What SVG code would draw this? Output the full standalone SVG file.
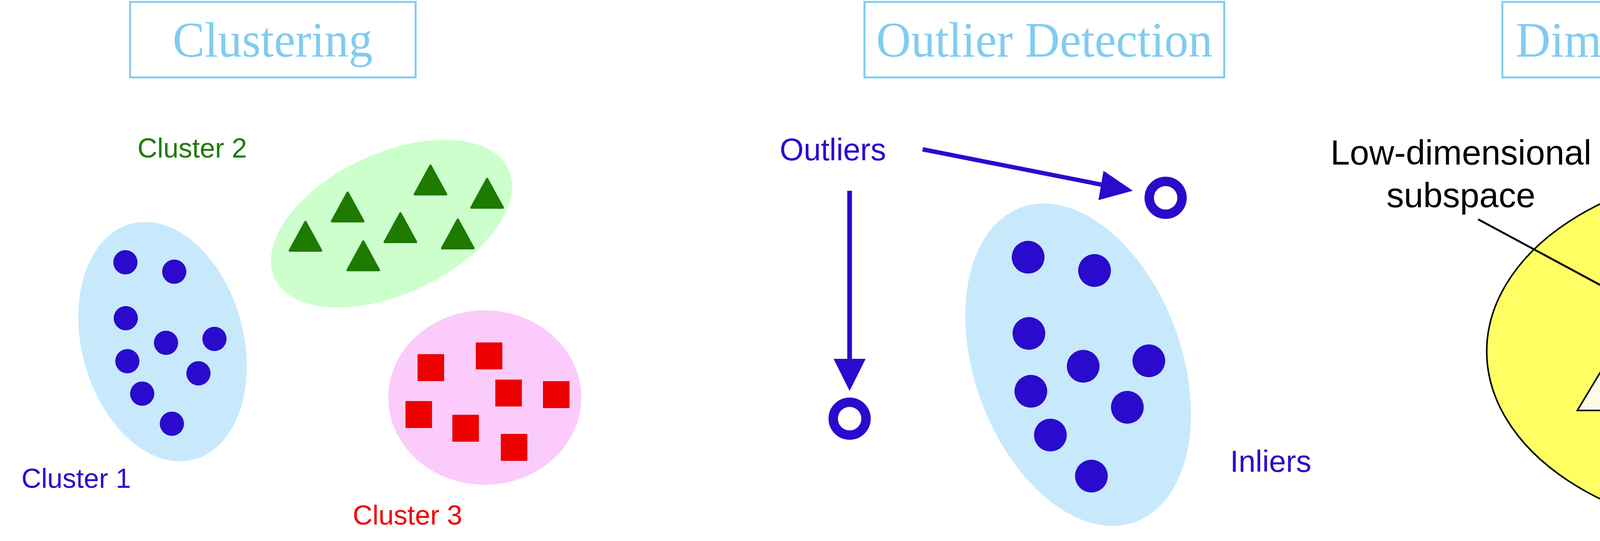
<svg xmlns="http://www.w3.org/2000/svg" width="5684" height="1384" viewBox="0 0 5684 1384">
<style>
.tbox{fill:#fff;stroke:#80ccf0;stroke-width:5}
.title{font-family:"Liberation Serif",serif;font-size:128px;fill:#80ccf0}
.lab{font-family:"Liberation Sans",Arial,sans-serif}
.bd{fill:#2a0acc}
.tri{fill:#1f7a00;stroke:#1f7a00;stroke-width:6;stroke-linejoin:round}
.rsq{fill:#ee0000}
.gx{stroke:#339922;stroke-width:8;fill:none}
.hb{fill:none;stroke:#7777ee;stroke-width:2}
.hr{fill:none;stroke:#ee7777;stroke-width:2}
</style>
<defs>
<pattern id="grid" width="8" height="8" patternUnits="userSpaceOnUse">
<rect width="8" height="8" fill="#fffdf0"/>
<path d="M0 0H8M0 0V8" stroke="#f6f0b8" stroke-width="1.5"/>
</pattern>
<marker id="ah" viewBox="0 0 10 10" refX="10" refY="5" markerWidth="12" markerHeight="10" markerUnits="userSpaceOnUse" orient="auto">
<path d="M0 0L10 5L0 10z" fill="#000"/>
</marker>
</defs>

<g id="title-clustering">
<rect class="tbox" x="333" y="5" width="731" height="193"/>
<text class="title" x="442" y="145" textLength="512" lengthAdjust="spacingAndGlyphs">Clustering</text>
</g>
<g id="title-outlier">
<rect class="tbox" x="2213" y="5" width="921" height="193"/>
<text class="title" x="2243" y="145" textLength="861" lengthAdjust="spacingAndGlyphs">Outlier Detection</text>
</g>
<g id="title-dimred">
<rect class="tbox" x="3846" y="5" width="1377" height="193"/>
<text class="title" x="3880" y="145" textLength="1303" lengthAdjust="spacingAndGlyphs">Dimensionality Reduction</text>
</g>

<g id="cluster1">
<ellipse cx="416" cy="874" rx="207" ry="312" transform="rotate(-15 416 874)" fill="#c8e9fc"/>
<circle class="bd" cx="321" cy="671" r="31"/><circle class="bd" cx="446" cy="695" r="31"/>
<circle class="bd" cx="322" cy="814" r="31"/><circle class="bd" cx="425" cy="877" r="31"/>
<circle class="bd" cx="549" cy="867" r="31"/><circle class="bd" cx="326" cy="924" r="31"/>
<circle class="bd" cx="508" cy="955" r="31"/><circle class="bd" cx="364" cy="1007" r="31"/>
<circle class="bd" cx="440" cy="1084" r="31"/>
<text class="lab" x="55" y="1248" font-size="70" fill="#2a0acc">Cluster 1</text>
</g>
<g id="cluster2">
<ellipse cx="1002" cy="572" rx="330" ry="180" transform="rotate(-25 1002 572)" fill="#ccffcc"/>
<path class="tri" d="M1102 424L1142 497H1062Z"/>
<path class="tri" d="M1247 458L1287 531H1207Z"/>
<path class="tri" d="M890 493L930 566H850Z"/>
<path class="tri" d="M1025 546L1065 619H985Z"/>
<path class="tri" d="M1172 562L1212 635H1132Z"/>
<path class="tri" d="M782 568L822 641H742Z"/>
<path class="tri" d="M930 618L970 691H890Z"/>
<text class="lab" x="352" y="403" font-size="70" fill="#1f7a00">Cluster 2</text>
</g>
<g id="cluster3">
<ellipse cx="1241" cy="1017" rx="247" ry="223" fill="#fbcbfb"/>
<rect class="rsq" x="1069" y="906" width="68" height="69"/>
<rect class="rsq" x="1218" y="876" width="68" height="69"/>
<rect class="rsq" x="1268" y="971" width="68" height="69"/>
<rect class="rsq" x="1390" y="975" width="68" height="69"/>
<rect class="rsq" x="1038" y="1026" width="68" height="69"/>
<rect class="rsq" x="1158" y="1061" width="68" height="69"/>
<rect class="rsq" x="1282" y="1110" width="68" height="69"/>
<text class="lab" x="903" y="1342" font-size="70" fill="#ee0000">Cluster 3</text>
</g>

<g id="outliers">
<text class="lab" x="1996" y="410" font-size="79" fill="#2a0acc">Outliers</text>
<circle cx="2984" cy="506" r="42" fill="none" stroke="#2a0acc" stroke-width="24"/>
<circle cx="2175" cy="1071" r="42" fill="none" stroke="#2a0acc" stroke-width="24"/>
</g>
<g id="inliers">
<ellipse cx="2760" cy="933" rx="265" ry="428" transform="rotate(-20 2760 933)" fill="#c8e9fc"/>
<circle class="bd" cx="2632" cy="658" r="42"/><circle class="bd" cx="2802" cy="692" r="42"/>
<circle class="bd" cx="2634" cy="853" r="42"/><circle class="bd" cx="2773" cy="937" r="42"/>
<circle class="bd" cx="2941" cy="923" r="42"/><circle class="bd" cx="2639" cy="1001" r="42"/>
<circle class="bd" cx="2886" cy="1042" r="42"/><circle class="bd" cx="2689" cy="1113" r="42"/>
<circle class="bd" cx="2794" cy="1218" r="42"/>
<text class="lab" x="3149" y="1207" font-size="78" fill="#2a0acc">Inliers</text>
</g>

<g id="high-space">
<ellipse cx="4522" cy="899" rx="716" ry="469" fill="#ffff63" stroke="#000" stroke-width="4"/>
<text class="lab" x="5322" y="421" font-size="89" fill="#000" text-anchor="middle">High-dimensional</text>
<text class="lab" x="5322" y="530" font-size="89" fill="#000" text-anchor="middle">space</text>
</g>
<g id="points-above">
<circle class="bd" cx="4362" cy="565" r="18"/><circle class="bd" cx="4408" cy="572" r="18"/>
<circle class="bd" cx="4326" cy="613" r="18"/><circle class="bd" cx="4379" cy="613" r="18"/>
<rect class="rsq" x="4541" y="560" width="39" height="39"/>
<rect class="rsq" x="4640" y="574" width="39" height="39"/>
<rect class="rsq" x="4586" y="603" width="39" height="39"/>
<path class="gx" d="M4749 612L4787 650M4787 612L4749 650"/>
</g>
<g id="low-subspace">
<path d="M4282 645H5024L4779 1050H4038Z" fill="url(#grid)" stroke="#000" stroke-width="4"/>
<ellipse cx="4357" cy="845" rx="125" ry="78" transform="rotate(-30 4357 845)" fill="#a8dcfb"/>
<ellipse cx="4591" cy="755" rx="120" ry="70" transform="rotate(15 4591 755)" fill="#f9cbf9"/>
<ellipse cx="4719" cy="935" rx="72" ry="95" transform="rotate(25 4719 935)" fill="#ccf8cc"/>
<circle class="bd" cx="4294" cy="660" r="18"/><circle class="bd" cx="4401" cy="654" r="18"/>
<circle class="bd" cx="4364" cy="702" r="18"/><circle class="bd" cx="4321" cy="729" r="18"/>
<circle class="bd" cx="4408" cy="761" r="18"/><circle class="bd" cx="4327" cy="778" r="18"/>
<circle class="bd" cx="4383" cy="834" r="18"/><circle class="bd" cx="4305" cy="865" r="18"/>
<rect class="rsq" x="4631" y="633" width="39" height="39"/>
<rect class="rsq" x="4539" y="666" width="39" height="39"/>
<rect class="rsq" x="4625" y="733" width="39" height="39"/>
<rect class="rsq" x="4576" y="756" width="39" height="39"/>
<path class="gx" d="M4709 684L4747 722M4747 684L4709 722"/>
<path class="gx" d="M4771 705L4809 743M4809 705L4771 743"/>
<path class="gx" d="M4738 762L4776 800M4776 762L4738 800"/>
<path class="gx" d="M4772 818L4810 856M4810 818L4772 856"/>
<path class="gx" d="M4663 852L4701 890M4701 852L4663 890"/>
<path class="gx" d="M4710 899L4748 937M4748 899L4710 937"/>
<path class="gx" d="M4669 955L4707 993M4707 955L4669 993"/>
<g class="hb">
<circle cx="4286" cy="960" r="16"/><path d="M4270 960H4302M4286 944V976"/>
<circle cx="4361" cy="960" r="16"/><path d="M4345 960H4377M4361 944V976"/>
<circle cx="4326" cy="1018" r="16"/><path d="M4310 1018H4342M4326 1002V1034"/>
<circle cx="4278" cy="1037" r="16"/><path d="M4262 1037H4294M4278 1021V1053"/>
</g>
<g class="hr">
<rect x="4547" y="851" width="36" height="36"/><path d="M4547 863H4583M4547 875H4583M4559 851V887M4571 851V887"/>
<rect x="4485" y="882" width="36" height="36"/><path d="M4485 894H4521M4485 906H4521M4497 882V918M4509 882V918"/>
<rect x="4545" y="913" width="36" height="36"/><path d="M4545 925H4581M4545 937H4581M4557 913V949M4569 913V949"/>
<rect x="4466" y="950" width="36" height="36"/><path d="M4466 962H4502M4466 974H4502M4478 950V986M4490 950V986"/>
<rect x="4526" y="978" width="36" height="36"/><path d="M4526 990H4562M4526 1002H4562M4538 978V1014M4550 978V1014"/>
</g>
<text class="lab" x="3740" y="421" font-size="89" fill="#000" text-anchor="middle">Low-dimensional</text>
<text class="lab" x="3740" y="530" font-size="89" fill="#000" text-anchor="middle">subspace</text>
</g>
<g id="points-below">
<circle class="bd" cx="4342" cy="1068" r="18"/><circle class="bd" cx="4274" cy="1098" r="18"/>
<circle class="bd" cx="4331" cy="1125" r="18"/><circle class="bd" cx="4266" cy="1177" r="18"/>
<circle class="bd" cx="4341" cy="1181" r="18"/>
<rect class="rsq" x="4468" y="1052" width="39" height="20"/>
<rect class="rsq" x="4540" y="1064" width="39" height="39"/>
<rect class="rsq" x="4476" y="1094" width="39" height="39"/>
<rect class="rsq" x="4561" y="1142" width="39" height="39"/>
<path class="gx" d="M4650 1046L4688 1084M4688 1046L4650 1084"/>
<path class="gx" d="M4696 1084L4734 1122M4734 1084L4696 1122"/>
<path class="gx" d="M4673 1139L4711 1177M4711 1139L4673 1177"/>
<path class="gx" d="M4733 1160L4771 1198M4771 1160L4733 1198"/>
</g>

<g id="connectors">
<path d="M2362 382L2838 476" stroke="#2a0acc" stroke-width="11" fill="none"/>
<path d="M2900 488L2812 512L2825 437Z" fill="#2a0acc"/>
<path d="M2175 488V925" stroke="#2a0acc" stroke-width="12" fill="none"/>
<path d="M2175 1000L2134 918H2216Z" fill="#2a0acc"/>
<path d="M3784 561L4193 781" stroke="#000" stroke-width="5" fill="none" marker-end="url(#ah)"/>
<path d="M5162 509L5017 547" stroke="#000" stroke-width="5" fill="none" marker-end="url(#ah)"/>
</g>
</svg>
